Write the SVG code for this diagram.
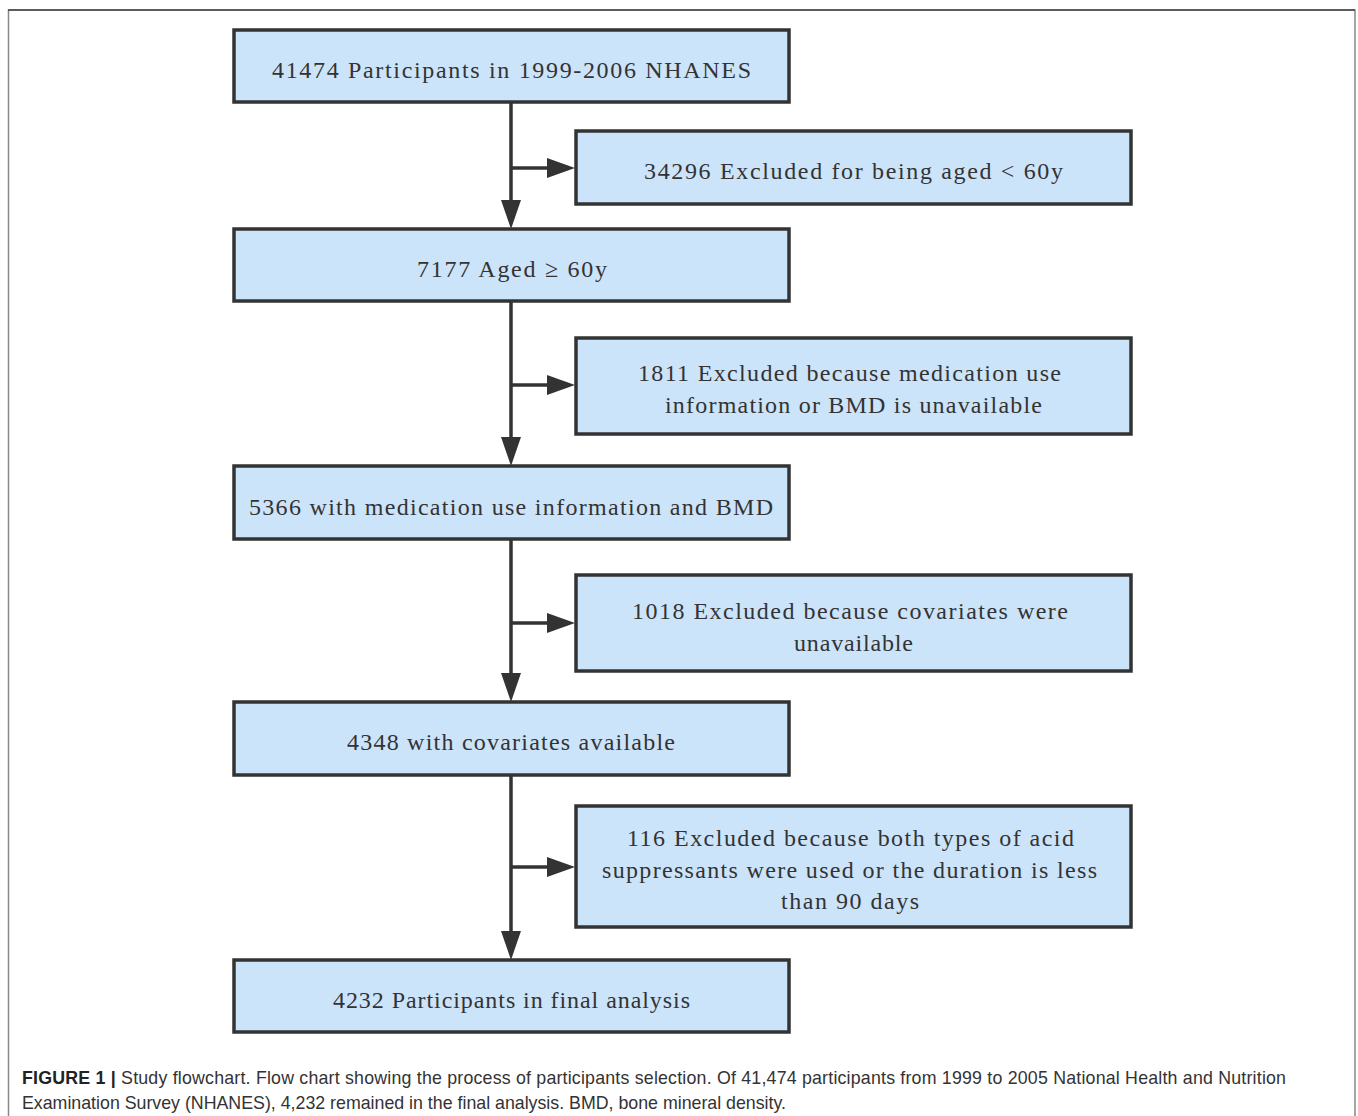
<svg xmlns="http://www.w3.org/2000/svg" width="1358" height="1116" viewBox="0 0 1358 1116">
<defs>
<style>
.box{fill:#cce4fa;stroke:#333;stroke-width:3.5}
.t{font-family:"Liberation Serif",serif;font-size:24px;fill:#333;text-anchor:middle}
.c{stroke:#333;stroke-width:3.5;fill:none}
.cap{font-family:"Liberation Sans",sans-serif;font-size:17.8px;fill:#333}
</style>
</defs>
<rect width="1358" height="1116" fill="#fff"/>
<path d="M8.5,1116 V10 H1355 V1116" fill="none" stroke="#888" stroke-width="1.5"/>
<line x1="8" y1="10" x2="1355" y2="10" stroke="#444" stroke-width="1.5"/>
<g id="connectors">
<line class="c" x1="511" y1="102" x2="511" y2="200"/><path d="M501,200 L521,200 L511,229 z" fill="#333"/>
<line class="c" x1="511" y1="168" x2="547" y2="168"/><path d="M547,158 L547,178 L575,168 z" fill="#333"/>
<line class="c" x1="511" y1="301" x2="511" y2="437"/><path d="M501,437 L521,437 L511,466 z" fill="#333"/>
<line class="c" x1="511" y1="385" x2="547" y2="385"/><path d="M547,375 L547,395 L575,385 z" fill="#333"/>
<line class="c" x1="511" y1="539" x2="511" y2="673"/><path d="M501,673 L521,673 L511,702 z" fill="#333"/>
<line class="c" x1="511" y1="623" x2="547" y2="623"/><path d="M547,613 L547,633 L575,623 z" fill="#333"/>
<line class="c" x1="511" y1="775" x2="511" y2="931"/><path d="M501,931 L521,931 L511,960 z" fill="#333"/>
<line class="c" x1="511" y1="867" x2="547" y2="867"/><path d="M547,857 L547,877 L575,867 z" fill="#333"/>
</g>
<g id="n1"><rect class="box" x="234" y="30" width="555" height="72"/><text class="t" x="511.5" y="78" textLength="479" lengthAdjust="spacing">41474 Participants in 1999-2006 NHANES</text></g>
<g id="e1"><rect class="box" x="576" y="131" width="555" height="73"/><text class="t" x="853.5" y="179" textLength="419" lengthAdjust="spacing">34296 Excluded for being aged &lt; 60y</text></g>
<g id="n2"><rect class="box" x="234" y="229" width="555" height="72"/><text class="t" x="512" y="277" textLength="190" lengthAdjust="spacing">7177 Aged ≥ 60y</text></g>
<g id="e2"><rect class="box" x="576" y="338" width="555" height="96"/><text class="t" x="849.5" y="381" textLength="423" lengthAdjust="spacing">1811 Excluded because medication use</text><text class="t" x="853.5" y="413" textLength="377" lengthAdjust="spacing">information or BMD is unavailable</text></g>
<g id="n3"><rect class="box" x="234" y="466" width="555" height="73"/><text class="t" x="511" y="515" textLength="524" lengthAdjust="spacing">5366 with medication use information and BMD</text></g>
<g id="e3"><rect class="box" x="576" y="575" width="555" height="96"/><text class="t" x="850" y="619" textLength="436" lengthAdjust="spacing">1018 Excluded because covariates were</text><text class="t" x="853.5" y="651" textLength="119" lengthAdjust="spacing">unavailable</text></g>
<g id="n4"><rect class="box" x="234" y="702" width="555" height="73"/><text class="t" x="511" y="750" textLength="328" lengthAdjust="spacing">4348 with covariates available</text></g>
<g id="e4"><rect class="box" x="576" y="806" width="555" height="121"/><text class="t" x="850.5" y="846" textLength="447" lengthAdjust="spacing">116 Excluded because both types of acid</text><text class="t" x="849.5" y="878" textLength="495" lengthAdjust="spacing">suppressants were used or the duration is less</text><text class="t" x="850" y="909" textLength="138" lengthAdjust="spacing">than 90 days</text></g>
<g id="n5"><rect class="box" x="234" y="960" width="555" height="72"/><text class="t" x="511.5" y="1008" textLength="357" lengthAdjust="spacing">4232 Participants in final analysis</text></g>
<text class="cap" x="22" y="1084" textLength="1264" lengthAdjust="spacing"><tspan font-weight="bold" fill="#222">FIGURE 1 |</tspan> Study flowchart. Flow chart showing the process of participants selection. Of 41,474 participants from 1999 to 2005 National Health and Nutrition</text>
<text class="cap" x="22" y="1109" textLength="764" lengthAdjust="spacing">Examination Survey (NHANES), 4,232 remained in the final analysis. BMD, bone mineral density.</text>
</svg>
